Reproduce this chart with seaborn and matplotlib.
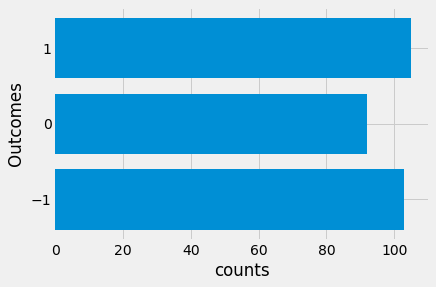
import matplotlib
matplotlib.use("Agg")
import matplotlib.pyplot as plt
import seaborn as sns
import pandas as pd

outcomes = [-1, 0, 1]
counts = [103, 92, 105]

plt.style.use("fivethirtyeight")
df = pd.DataFrame({"Outcomes": outcomes, "counts": counts})

fig = plt.figure(figsize=(436 / 72, 287 / 72), dpi=72)
ax = fig.add_axes([55 / 436, 1 - 240.3 / 287, (429 - 55) / 436, (240.3 - 7.3) / 287])
sns.barplot(data=df, x="counts", y="Outcomes", orient="h", native_scale=True,
            color="#008fd5", saturation=1, width=0.8, ax=ax, zorder=3)
ax.set_axisbelow(True)
ax.set_yticks(outcomes)
ax.set_ylim(-1.54, 1.54)
ax.set_xlim(0, 110.25)
ax.set_xlabel("counts")
ax.set_ylabel("Outcomes", labelpad=6)
fig.savefig("out.png", dpi=72, facecolor=fig.get_facecolor())
